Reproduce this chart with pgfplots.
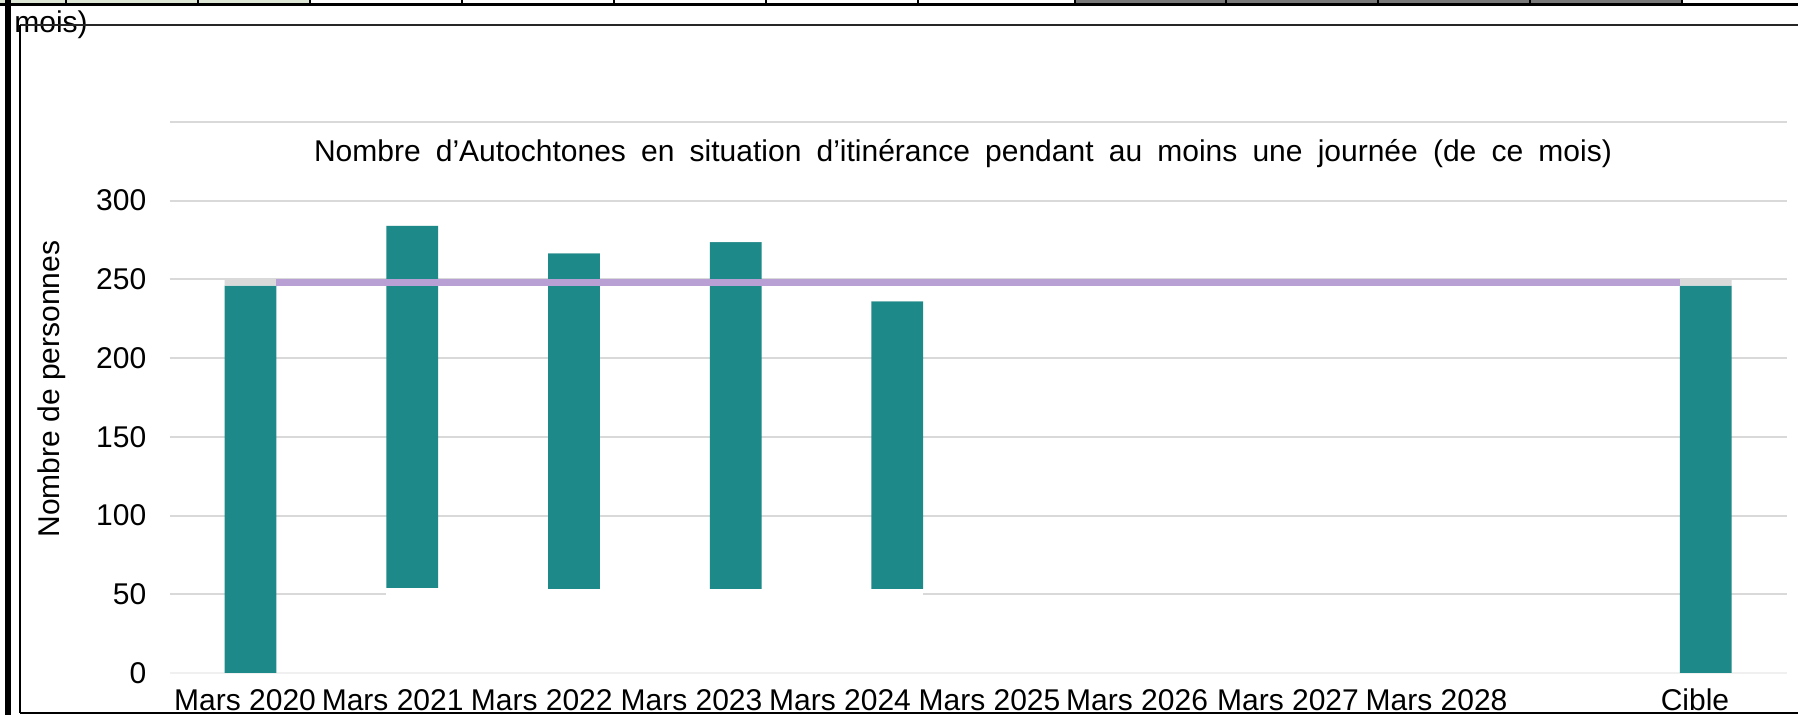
\documentclass[border=0pt]{standalone}
\usepackage{fontspec}
\setmainfont{Liberation Sans}
\usepackage{pgfplots}
\pgfplotsset{compat=1.18}
\definecolor{barteal}{RGB}{30,137,137}
\definecolor{target}{RGB}{184,160,212}
\definecolor{gridgray}{RGB}{217,217,217}
\definecolor{cellgreen}{RGB}{221,229,212}
\definecolor{cellgray}{RGB}{120,120,120}
\begin{document}
\fontsize{15}{18}\selectfont
\begin{tikzpicture}[x=1pt,y=1pt]
\fill[white] (0,0) rectangle (899,357.5);
\fill[cellgreen] (0,355) rectangle (155,357.5);
\fill[cellgray] (537.5,355) rectangle (841,357.5);
\foreach \xx in {33,99,155,231,307,383,459,537.5,613,689,765,841} \draw[black,line width=0.8pt] (\xx,355) -- (\xx,357.5);
\node[anchor=base west, inner sep=0pt] at (7,341) {mois)};
\begin{axis}[
  at={(84.85pt,21pt)}, anchor=south west, scale only axis,
  width=808.45pt, height=275.55pt,
  xmin=-0.5, xmax=9.5, ymin=0, ymax=350,
  axis line style={draw=none},
  major tick length=0pt,
  ytick={50,100,...,350}, yticklabels={50,100,150,200,250,300,{}},
  extra y ticks={0}, extra y tick labels={0},
  extra y tick style={grid style={color=black!6, line width=0.8pt}},
  ymajorgrids, grid style={gridgray, line width=1pt},
  xtick={-0.034,0.879,1.801,2.727,3.646,4.57,5.483,6.416,7.335,8.933},
  xticklabels={Mars 2020,Mars 2021,Mars 2022,Mars 2023,Mars 2024,Mars 2025,Mars 2026,Mars 2027,Mars 2028,Cible},
  xticklabel style={anchor=base, yshift=-18.6pt},
  yticklabel style={xshift=-6.5pt},
  /pgf/number format/assume math mode=true,
  tick label style={font=\fontsize{15}{18}\selectfont},
]
\addplot[ybar, bar width=0.32, bar shift=0pt, stack plots=y, draw=none, fill=none, forget plot]
  coordinates {(0,0) (1,54) (2,53.5) (3,53.5) (4,53.5) (9,0)};
\addplot[ybar, bar width=0.32, bar shift=0pt, stack plots=y, draw=none, fill=barteal]
  coordinates {(0,246) (1,230) (2,213) (3,220.2) (4,182.5) (9,246)};
\addplot[ybar, bar width=0.32, bar shift=0pt, stack plots=y, draw=none, fill=gridgray]
  coordinates {(0,4) (1,0) (2,0) (3,0) (4,0) (9,4)};
\addplot[stack plots=false, target, line width=3.35pt, no marks]
  coordinates {(0.16,248) (8.84,248)};
\addplot[stack plots=false, white, line width=1.2pt, no marks, forget plot]
  coordinates {(0.84,50) (4.16,50)};
\end{axis}
\node[anchor=base] at (481.5,276.5) {\makebox[649pt][s]{Nombre d’Autochtones en situation d’itinérance pendant au moins une journée (de ce mois)}};
\node[rotate=90] at (26,163) {Nombre de personnes};
\draw[black, line width=1.5pt] (0,355.4) -- (899,355.4);
\fill[black] (2.5,0) rectangle (5.5,357.5);
\draw[line width=1pt, black!85] (10,345) -- (899,345);
\draw[line width=0.6pt] (10,345) -- (10,1.2);
\draw[line width=1pt] (10,1.2) -- (899,1.2);
\pgfresetboundingbox
\path[use as bounding box] (0,0) rectangle (899,357.5);
\end{tikzpicture}
\end{document}
